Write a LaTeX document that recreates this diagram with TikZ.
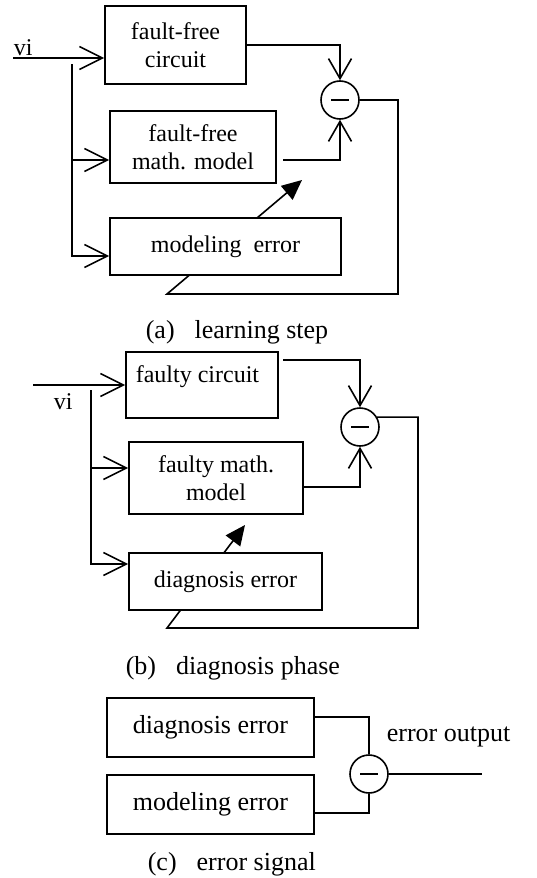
\documentclass[tikz,border=0pt]{standalone}
\usepackage{fontspec}
\setmainfont{Liberation Serif}
\usetikzlibrary{arrows.meta}
\begin{document}
\begin{tikzpicture}[x=1pt,y=-1pt,line width=1.6pt,
  box/.style={draw,fill=white,line width=1.6pt,inner sep=0pt,align=center,font=\fontsize{24}{28}\selectfont},
  boxc/.style={box,font=\fontsize{26}{30}\selectfont},
  sumc/.style={draw,circle,line width=1.6pt,minimum size=38pt,inner sep=0pt},
  lbl/.style={inner sep=0pt,font=\fontsize{24}{28}\selectfont},
  captxt/.style={inner sep=0pt,anchor=west,font=\fontsize{26}{30}\selectfont},
  oarr/.style={line width=1.6pt,-{Straight Barb[length=23pt,width=23pt]}},
  carr/.style={line width=1.6pt,-{Straight Barb[length=20pt,width=23pt]}},
  farr/.style={line width=1.6pt,-{Triangle[length=20pt,width=18pt]}}]
\useasboundingbox (0,0) rectangle (536,878);

% ---------- (a) learning step ----------
\node[sumc] (ca) at (340,100) {};
\draw ([xshift=-9pt]ca.center) -- ([xshift=9pt]ca.center);
\coordinate (alc) at (398,294);
\coordinate (all) at (167,294);
\coordinate (atip) at (302,180);
\draw[farr] (ca.east) -| (alc) -- (all) -- (atip);

\node[box,minimum width=141pt,minimum height=78pt] (a1) at (175.5,45) {fault-free\\circuit};
\node[box,minimum width=166pt,minimum height=72pt] (a2) at (193,147) {fault-free\\math. model};
\node[box,minimum width=231pt,minimum height=57pt] (a3) at (225.5,246.5) {modeling\ \ error};
\node[lbl,anchor=south west] (via) at (13,57) {vi};

\coordinate (ain) at (13,58);
\coordinate (abr) at (72,64);
\coordinate (abm) at (72,160);
\coordinate (a2o) at (283,160);

\draw[oarr] (ain) -- (ain -| a1.west);
\draw[oarr] (abr) |- (a3.west |- 0,256);
\draw[oarr] (abm) -- (a2.west |- abm);
\draw[carr] (a1.east) -| (ca.north);
\draw[carr] (a2o) -| (ca.south);

\node[captxt] (capa) at (145,332) {(a)\hspace{20pt}learning step};

% ---------- (b) diagnosis phase ----------
\node[sumc] (cb) at (360,427) {};
\draw ([xshift=-9pt]cb.center) -- ([xshift=9pt]cb.center);
\coordinate (blc) at (418,628);
\coordinate (bll) at (167,628);
\coordinate (btip) at (245,525);
\draw[farr] (cb.30) -| (blc) -- (bll) -- (btip);

\node[box,minimum width=152pt,minimum height=66pt] (b1) at (202,385) {};
\node[lbl,anchor=west] (b1t) at (135,377) {faulty circuit};
\node[box,minimum width=174pt,minimum height=72pt] (b2) at (216,478) {faulty math.\\model};
\node[box,minimum width=193pt,minimum height=57pt] (b3) at (225.5,581.5) {diagnosis error};
\node[lbl,anchor=west] (vib) at (53,402) {vi};

\coordinate (bin) at (33,385);
\coordinate (bbr) at (91,390);
\coordinate (bbm) at (91,468);
\coordinate (b1o) at (283,360);
\coordinate (b2o) at (303,487);

\draw[oarr] (bin) -- (b1.west);
\draw[oarr] (bbr) |- (b3.west |- 0,564);
\draw[oarr] (bbm) -- (b2.west |- bbm);
\draw[carr] (b1o) -| (cb.north);
\draw[carr] (b2o) -| (cb.south);

\node[captxt] (capb) at (125,668) {(b)\hspace{20pt}diagnosis phase};

% ---------- (c) error signal ----------
\node[boxc,minimum width=207pt,minimum height=59pt] (c1) at (210.5,727.5) {diagnosis error};
\node[boxc,minimum width=207pt,minimum height=59pt] (c2) at (210.5,804.5) {modeling error};
\node[sumc] (cc) at (369,774) {};
\draw ([xshift=-9pt]cc.center) -- ([xshift=9pt]cc.center);
\coordinate (cout) at (482,774);
\draw ([yshift=10.5pt]c1.east) -| (cc.north);
\draw ([yshift=-8.5pt]c2.east) -| (cc.south);
\draw (cc.east) -- (cout);
\node[captxt] (eo) at (386,737) {error output};

\node[captxt] (capc) at (147,864) {(c)\hspace{20pt}error signal};
\end{tikzpicture}
\end{document}
